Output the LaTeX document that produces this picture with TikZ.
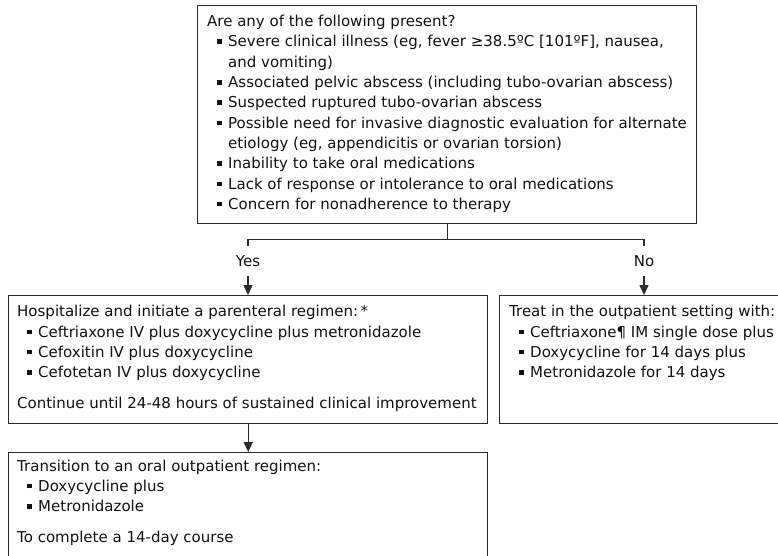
\documentclass[tikz,border=0pt]{standalone}
\usepackage{fontspec}
\setmainfont{DejaVu Sans}
\usetikzlibrary{arrows.meta}
\definecolor{ink}{HTML}{111111}
\definecolor{edge}{HTML}{2B2B2B}
\newcommand{\bitem}[1]{\hspace*{10pt}\makebox[11pt][l]{\raisebox{3pt}{\rule{4.5pt}{4.5pt}}}#1}
\newcommand{\bcont}[1]{\hspace*{21pt}#1}
\newcommand{\tblock}[1]{\parbox[t]{480pt}{\raggedright #1}}
\begin{document}
\begin{tikzpicture}[x=1pt,y=-1pt,
  box/.style={draw=edge,line width=1.4pt,rectangle,inner sep=0pt,anchor=north west},
  txt/.style={anchor=base west,inner sep=0pt,text=ink,font=\fontsize{15}{20.3}\selectfont},
  lbl/.style={inner sep=0pt,minimum height=30pt,text=ink,font=\fontsize{15}{18}\selectfont},
  conn/.style={draw=edge,line width=1.4pt},
  arr/.style={conn,-{Triangle[length=10pt,width=9pt]}}]
\useasboundingbox (0,0) rectangle (778,556);
\clip (0,0) rectangle (778,556);
\fill[white] (0,0) rectangle (778,556);
% boxes
\node[box,minimum width=499pt,minimum height=218pt] (q) at (197,5) {};
\node[box,minimum width=479pt,minimum height=128pt] (hosp) at (8,295) {};
\node[box,minimum width=290pt,minimum height=128pt] (outp) at (499,295) {};
\node[box,minimum width=479pt,minimum height=128pt] (oral) at (8,452) {};
% texts
\node[txt] (qt) at (207,26.7) {\tblock{Are any of the following present?\\
\bitem{Severe clinical illness (eg, fever ≥38.5ºC [101ºF], nausea,}\\
\bcont{and vomiting)}\\
\bitem{Associated pelvic abscess (including tubo-ovarian abscess)}\\
\bitem{Suspected ruptured tubo-ovarian abscess}\\
\bitem{Possible need for invasive diagnostic evaluation for alternate}\\
\bcont{etiology (eg, appendicitis or ovarian torsion)}\\
\bitem{Inability to take oral medications}\\
\bitem{Lack of response or intolerance to oral medications}\\
\bitem{Concern for nonadherence to therapy}}};
\node[txt] (ht) at (17,316.7) {\tblock{Hospitalize and initiate a parenteral regimen:\thinspace*\\
\bitem{Ceftriaxone IV plus doxycycline plus metronidazole}\\
\bitem{Cefoxitin IV plus doxycycline}\\
\bitem{Cefotetan IV plus doxycycline}\\[10.7pt]
Continue until 24-48 hours of sustained clinical improvement}};
\node[txt] (ot) at (509,316.7) {\tblock{Treat in the outpatient setting with:\\
\bitem{Ceftriaxone¶ IM single dose plus}\\
\bitem{Doxycycline for 14 days plus}\\
\bitem{Metronidazole for 14 days}}};
\node[txt] (rt) at (17,471) {\tblock{Transition to an oral outpatient regimen:\\
\bitem{Doxycycline plus}\\
\bitem{Metronidazole}\\[10.7pt]
To complete a 14-day course}};
% labels
\node[lbl] (yes) at (248,261) {Yes};
\node[lbl] (no) at (644,261) {No};
% connectors
\draw[conn] (q.south) -- ++(0,15) -| (yes.north);
\draw[conn] (q.south) ++(0,15) -| (no.north);
\draw[arr] (yes.south) -- (yes.south |- hosp.north);
\draw[arr] (no.south) -- (no.south |- outp.north);
\draw[arr] (hosp.south) -- (oral.north);
\end{tikzpicture}
\end{document}
